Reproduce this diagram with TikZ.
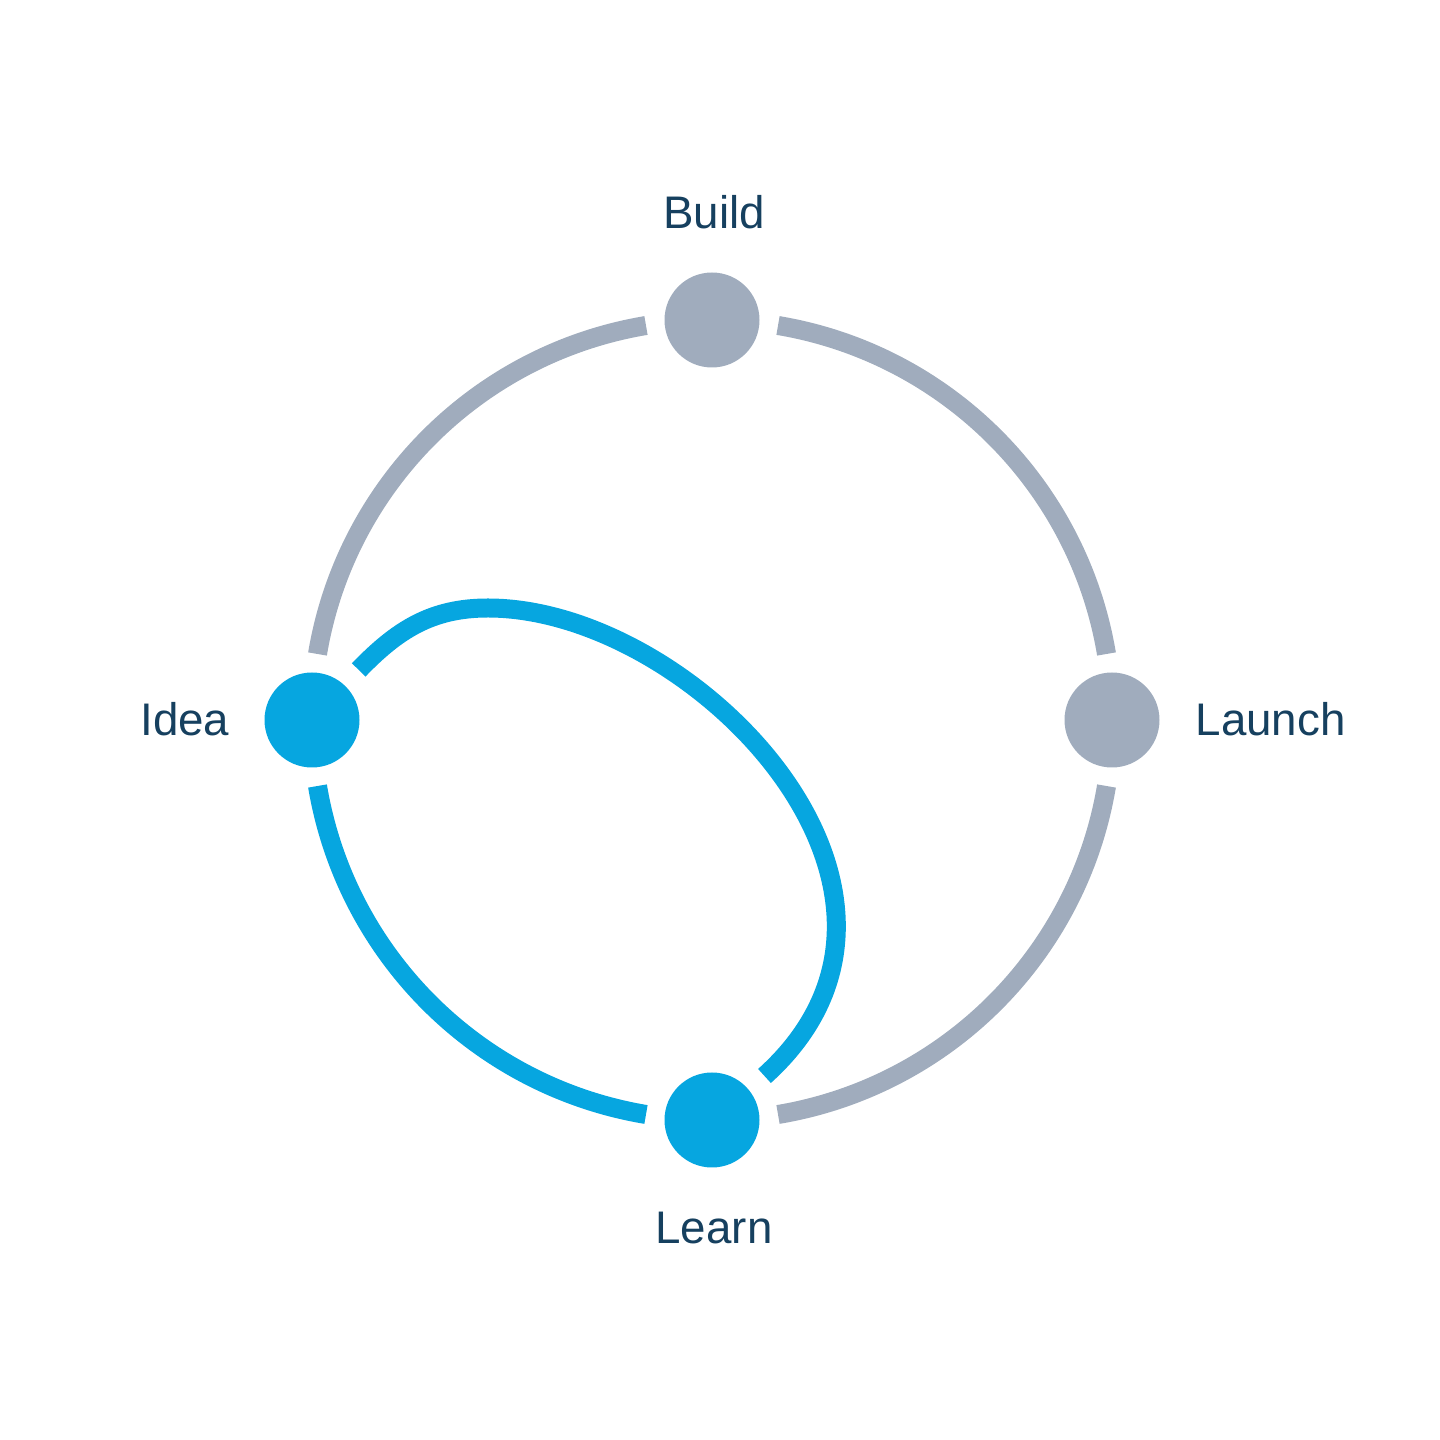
\documentclass[tikz,border=0pt]{standalone}
\usepackage{fontspec}
\setmainfont{Liberation Sans}
\usepackage{tikz}

\definecolor{ringgray}{HTML}{A0ACBD}
\definecolor{loopblue}{HTML}{06A6E0}
\definecolor{labelnavy}{HTML}{16405F}

\tikzset{
  stage/.style={circle,minimum size=0.95cm,inner sep=0pt,outer sep=0.21cm},
  ring/.style={line width=0.19cm,ringgray},
  ringhot/.style={line width=0.19cm,loopblue},
  lbl/.style={font=\fontsize{13pt}{15pt}\selectfont,text=labelnavy,inner sep=0pt}
}

\begin{document}
\begin{tikzpicture}[x=1cm,y=1cm]
      \useasboundingbox (0,0) rectangle (14.4,14.4);
      \coordinate (o) at (7.12,7.20);
      \node[stage,fill=ringgray] (build) at (7.12,11.20) {};
      \node[stage,fill=ringgray] (launch) at (11.12,7.20) {};
      \node[stage,fill=loopblue] (learn) at (7.12,3.20) {};
      \node[stage,fill=loopblue] (idea) at (3.12,7.20) {};
      % outer ring, cut short of each stage
      \draw[ring] ([shift={(9.5:4)}]o) arc[start angle=9.5,end angle=80.5,radius=4];
      \draw[ring] ([shift={(99.5:4)}]o) arc[start angle=99.5,end angle=170.5,radius=4];
      \draw[ringhot] ([shift={(189.5:4)}]o) arc[start angle=189.5,end angle=260.5,radius=4];
      \draw[ring] ([shift={(279.5:4)}]o) arc[start angle=279.5,end angle=350.5,radius=4];
      % inner loop idea -> learn
      \coordinate (looptop) at (4.88,8.32);
      \draw[ringhot] (idea.47) to[out=46,in=180] (looptop)
        .. controls +(0:2.05) and +(42:2.75) .. (learn.40);
      \node[lbl,anchor=base] (buildlbl) at (7.14,12.11) {Build};
      \node[lbl,anchor=base west] (launchlbl) at (11.95,7.04) {Launch};
      \node[lbl,anchor=base] (learnlbl) at (7.14,1.96) {Learn};
      \node[lbl,anchor=base east] (idealbl) at (2.30,7.04) {Idea};
    \end{tikzpicture}
\end{document}
